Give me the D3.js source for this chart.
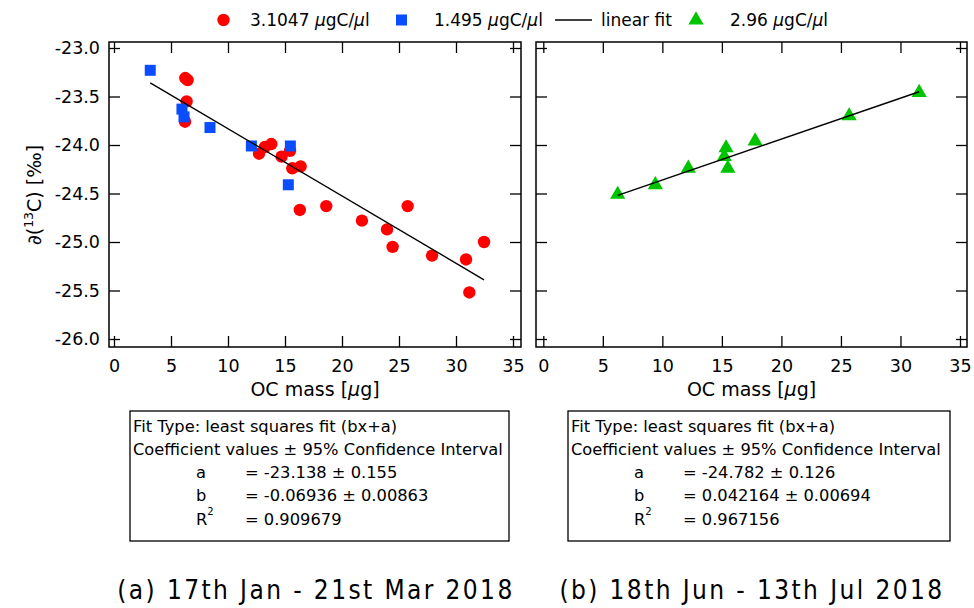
<!DOCTYPE html>
<html><head><meta charset="utf-8">
<script src="https://cdn.jsdelivr.net/npm/d3@7"></script>
<style>
body{margin:0;background:#fff}
svg{display:block}
text{font-family:"DejaVu Sans",sans-serif;fill:#000}
</style>
</head><body>
<svg id="c" width="974" height="608"></svg>
<script>
// ---- data ----
const xTicks = [0, 5, 10, 15, 20, 25, 30, 35];
const yTicks = [-23.0, -23.5, -24.0, -24.5, -25.0, -25.5, -26.0];

const redX  = [6.25, 6.46, 6.37, 6.23, 12.72, 13.25, 13.8, 14.7, 15.44, 15.64, 16.37, 16.3, 18.62, 21.75, 23.95, 24.44, 25.76, 27.9, 30.88, 31.17, 32.46];
const redY  = [-23.31, -23.33, -23.55, -23.76, -24.09, -24.02, -23.99, -24.12, -24.06, -24.24, -24.22, -24.67, -24.63, -24.78, -24.87, -25.05, -24.63, -25.14, -25.18, -25.52, -25.0];
const blueX = [3.18, 5.96, 6.14, 8.42, 12.05, 15.47, 15.29];
const blueY = [-23.23, -23.63, -23.71, -23.82, -24.01, -24.01, -24.41];
const greenX = [6.25, 9.41, 12.18, 15.35, 15.2, 15.5, 17.79, 25.69, 31.57];
const greenY = [-24.51, -24.41, -24.24, -24.03, -24.12, -24.24, -23.96, -23.70, -23.46];

const fitA = [-23.138, -24.782];
const fitB = [-0.06936, 0.042164];
const fitBoxA = ["-23.138 ± 0.155", "-24.782 ± 0.126"];
const fitBoxB = ["-0.06936 ± 0.00863", "0.042164 ± 0.00694"];
const fitBoxR2 = ["0.909679", "0.967156"];
const captions = ["(a) 17th Jan - 21st Mar 2018", "(b) 18th Jun - 13th Jul 2018"];
const legendLabels = ["3.1047", "1.495", "linear fit", "2.96"];

// ---- layout ----
const svg = d3.select("#c");
const panels = [
  {fx0:109, fx1:521, xr:[114,513], box:[130,411,509,541], cap:316},
  {fx0:536, fx1:967, xr:[543.3,960], box:[568,411,950,541], cap:752}
];
const fy0 = 42, fy1 = 347;
const y = d3.scaleLinear().domain([-23, -26]).range([48, 339]);
const fmtY = v => d3.format(".1f")(v).replace("−", "-");
const RED = "#ff0000", BLUE = "#0a4dff", GREEN = "#00c400";
const TS = 11;

function series(p, i) {
  if (i === 0) {
    const pts = redX.map((d, k) => [d, redY[k]]);
    const pts2 = blueX.map((d, k) => [d, blueY[k]]);
    return {groups: [{pts, type:"circle"}, {pts: pts2, type:"square"}], all: pts.concat(pts2)};
  }
  const pts = greenX.map((d, k) => [d, greenY[k]]);
  return {groups: [{pts, type:"triangle"}], all: pts};
}

panels.forEach((p, i) => {
  const x = d3.scaleLinear().domain([0, 35]).range(p.xr);
  const g = svg.append("g");

  const bottom = g.append("g").attr("transform", `translate(0,${fy1})`)
    .call(d3.axisBottom(x).tickValues(xTicks).tickSize(-TS).tickSizeOuter(0).tickPadding(13).tickFormat(d3.format("d")));
  const top = g.append("g").attr("transform", `translate(0,${fy0})`)
    .call(d3.axisTop(x).tickValues(xTicks).tickSize(-TS).tickSizeOuter(0).tickFormat(""));
  const left = g.append("g").attr("transform", `translate(${p.fx0},0)`)
    .call(d3.axisLeft(y).tickValues(yTicks).tickSize(-TS).tickSizeOuter(0).tickPadding(9).tickFormat(i === 0 ? fmtY : ""));
  const right = g.append("g").attr("transform", `translate(${p.fx1},0)`)
    .call(d3.axisRight(y).tickValues(yTicks).tickSize(-TS).tickSizeOuter(0).tickFormat(""));
  [bottom, top, left, right].forEach(a => {
    a.select(".domain").remove();
    a.selectAll(".tick line").attr("stroke", "#000").attr("stroke-width", 1.3);
    a.selectAll("text").style("font-family", '"DejaVu Sans",sans-serif').style("font-size", "17.5px").attr("fill", "#000");
  });

  g.append("rect").attr("x", p.fx0).attr("y", fy0).attr("width", p.fx1 - p.fx0).attr("height", fy1 - fy0)
    .attr("fill", "none").attr("stroke", "#000").attr("stroke-width", 1.5);

  const s = series(p, i);
  s.groups.forEach(gr => {
    if (gr.type === "circle") {
      g.selectAll(null).data(gr.pts).join("circle")
        .attr("cx", d => x(d[0])).attr("cy", d => y(d[1])).attr("r", 6.2).attr("fill", RED);
    } else if (gr.type === "square") {
      g.selectAll(null).data(gr.pts).join("rect")
        .attr("x", d => x(d[0]) - 5.5).attr("y", d => y(d[1]) - 5.5).attr("width", 11).attr("height", 11).attr("fill", BLUE);
    } else {
      g.selectAll(null).data(gr.pts).join("path")
        .attr("transform", d => `translate(${x(d[0])},${y(d[1])})`)
        .attr("d", d3.symbol(d3.symbolTriangle, 100)()).attr("fill", GREEN);
    }
  });

  const ext = d3.extent(s.all, d => d[0]);
  const line = d3.line().x(d => x(d)).y(d => y(fitA[i] + fitB[i] * d));
  g.append("path").attr("d", line(ext)).attr("fill", "none").attr("stroke", "#000").attr("stroke-width", 1.4);

  const xt = g.append("text").attr("x", (p.fx0 + p.fx1) / 2).attr("y", 396).attr("text-anchor", "middle").style("font-size", "19px");
  xt.append("tspan").text("OC mass [");
  xt.append("tspan").attr("font-style", "italic").text("μ");
  xt.append("tspan").text("g]");

  const [bx0, by0, bx1, by1] = p.box;
  g.append("rect").attr("x", bx0).attr("y", by0).attr("width", bx1 - bx0).attr("height", by1 - by0)
    .attr("fill", "none").attr("stroke", "#000").attr("stroke-width", 1.3);
  const tx = bx0 + 3, tc = bx0 + 66, te = bx0 + 115;
  const fs = "16.3px";
  g.append("text").attr("x", tx).attr("y", 432).style("font-size", fs).text("Fit Type: least squares fit (bx+a)");
  g.append("text").attr("x", tx).attr("y", 455).style("font-size", fs).text("Coefficient values ± 95% Confidence Interval");
  g.append("text").attr("x", tc).attr("y", 478).style("font-size", fs).text("a");
  g.append("text").attr("x", te).attr("y", 478).style("font-size", fs).text("= " + fitBoxA[i]);
  g.append("text").attr("x", tc).attr("y", 501).style("font-size", fs).text("b");
  g.append("text").attr("x", te).attr("y", 501).style("font-size", fs).text("= " + fitBoxB[i]);
  const r2 = g.append("text").attr("x", tc).attr("y", 525).style("font-size", fs);
  r2.append("tspan").text("R");
  r2.append("tspan").attr("dy", -10).style("font-size", "10px").text("2");
  g.append("text").attr("x", te).attr("y", 525).style("font-size", fs).text("= " + fitBoxR2[i]);

  g.append("text").attr("x", p.cap).attr("y", 599).attr("text-anchor", "middle")
    .style("font-family", '"DejaVu Sans Condensed","DejaVu Sans",sans-serif').style("font-size", "26px")
    .style("letter-spacing", "2.4px").text(captions[i]);
});

const yt = svg.append("text").attr("transform", "translate(41,195) rotate(-90)").attr("text-anchor", "middle").style("font-size", "19px");
yt.append("tspan").text("∂(");
yt.append("tspan").attr("dy", -8).style("font-size", "12.5px").text("13");
yt.append("tspan").attr("dy", 8).text("C) [‰]");

const L = svg.append("g");
const ly = 20, lfs = "17px";
function ltext(xp, val) {
  const t = L.append("text").attr("x", xp).attr("y", ly + 6).style("font-size", lfs);
  t.append("tspan").text(val + " ");
  t.append("tspan").attr("font-style", "italic").text("μ");
  t.append("tspan").text("gC/");
  t.append("tspan").attr("font-style", "italic").text("μ");
  t.append("tspan").text("l");
}
L.append("circle").attr("cx", 223.5).attr("cy", ly).attr("r", 6.2).attr("fill", RED);
ltext(250, legendLabels[0]);
L.append("rect").attr("x", 396).attr("y", ly - 5.5).attr("width", 11).attr("height", 11).attr("fill", BLUE);
ltext(434, legendLabels[1]);
L.append("line").attr("x1", 555).attr("x2", 592).attr("y1", ly).attr("y2", ly).attr("stroke", "#000").attr("stroke-width", 1.4);
L.append("text").attr("x", 601).attr("y", ly + 6).style("font-size", lfs).text(legendLabels[2]);
L.append("path").attr("transform", `translate(696,${ly})`).attr("d", d3.symbol(d3.symbolTriangle, 100)()).attr("fill", GREEN);
ltext(730, legendLabels[3]);
</script>
</body></html>
